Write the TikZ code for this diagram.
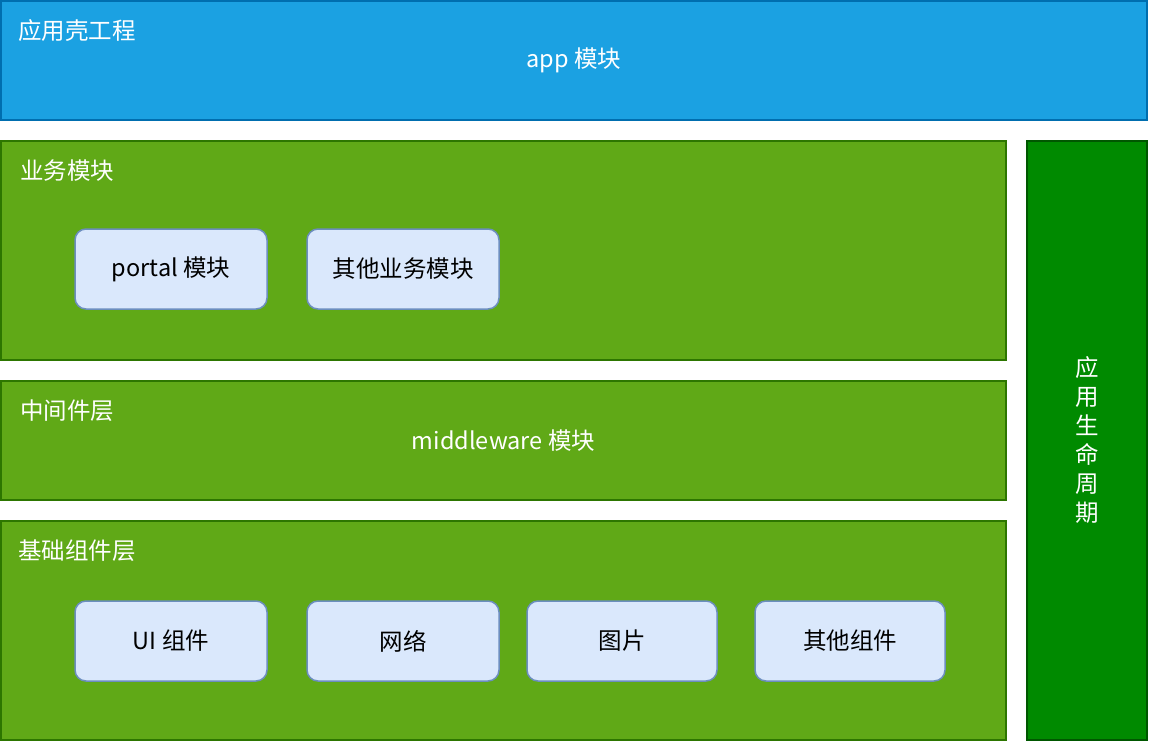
\documentclass[tikz,border=0pt]{standalone}
\usepackage{fontspec}
\setmainfont{Noto Sans CJK SC}
\usetikzlibrary{positioning}

\definecolor{appfill}{HTML}{1BA1E2}
\definecolor{appline}{HTML}{006EAF}
\definecolor{layerfill}{HTML}{60A917}
\definecolor{layerline}{HTML}{2D7600}
\definecolor{lifefill}{HTML}{008A00}
\definecolor{lifeline}{HTML}{005700}
\definecolor{modfill}{HTML}{DAE8FC}
\definecolor{modline}{HTML}{6C8EBF}

\begin{document}
\begin{tikzpicture}[x=1pt, y=-1pt,
  applayer/.style={draw=appline, fill=appfill, line width=1.5pt, inner sep=0pt},
  layer/.style={draw=layerline, fill=layerfill, line width=1.5pt, inner sep=0pt, minimum width=1005pt},
  lifelayer/.style={draw=lifeline, fill=lifefill, line width=1.5pt, inner sep=0pt},
  module/.style={draw=modline, fill=modfill, line width=1.5pt, rounded corners=11pt,
    minimum width=192pt, minimum height=80pt, inner sep=0pt, font=\fontsize{23.5}{28}\selectfont},
  title/.style={text=white, inner sep=0pt, anchor=west, font=\fontsize{23.5}{28}\selectfont},
  label/.style={text=white, inner sep=0pt, font=\fontsize{23.5}{28}\selectfont}]

  \useasboundingbox (0,0) rectangle (1150,744);

  % Define layers
  \node[applayer, minimum width=1146pt, minimum height=119pt] (app) at (574,60.5) {};
  \node[layer, minimum height=219pt] (biz) at (503.5,250.5) {};
  \node[layer, minimum height=119pt] (mid) at (503.5,440.5) {};
  \node[layer, minimum height=219pt] (base) at (503.5,630.5) {};
  \node[lifelayer, minimum width=120pt, minimum height=599pt] (life) at (1087,440.5) {};

  % Layer texts
  \node[title] (apptitle) at ([shift={(18,30)}]app.north west) {应用壳工程};
  \node[label] (appname) at ([shift={(0,-0.5)}]app.center) {app 模块};
  \node[title] (biztitle) at ([shift={(20,30)}]biz.north west) {业务模块};
  \node[title] (midtitle) at ([shift={(20,30)}]mid.north west) {中间件层};
  \node[label] (midname) at (mid.center) {middleware 模块};
  \node[title] (basetitle) at ([shift={(18,30)}]base.north west) {基础组件层};
  \node[label, align=center, font=\fontsize{23.5}{29}\selectfont] (lifename) at (life.center)
    {应\\用\\生\\命\\周\\期};

  % Modules
  \node[module] (portal) at (171,269) {portal 模块};
  \node[module, right=38.5pt of portal] (otherbiz) {其他业务模块};
  \node[module] (ui) at (171,641) {UI 组件};
  \node[module, right=38.5pt of ui] (net) {网络};
  \node[module, minimum width=190pt, right=26.5pt of net] (img) {图片};
  \node[module, minimum width=190pt, right=36.5pt of img] (othercomp) {其他组件};

\end{tikzpicture}
\end{document}
